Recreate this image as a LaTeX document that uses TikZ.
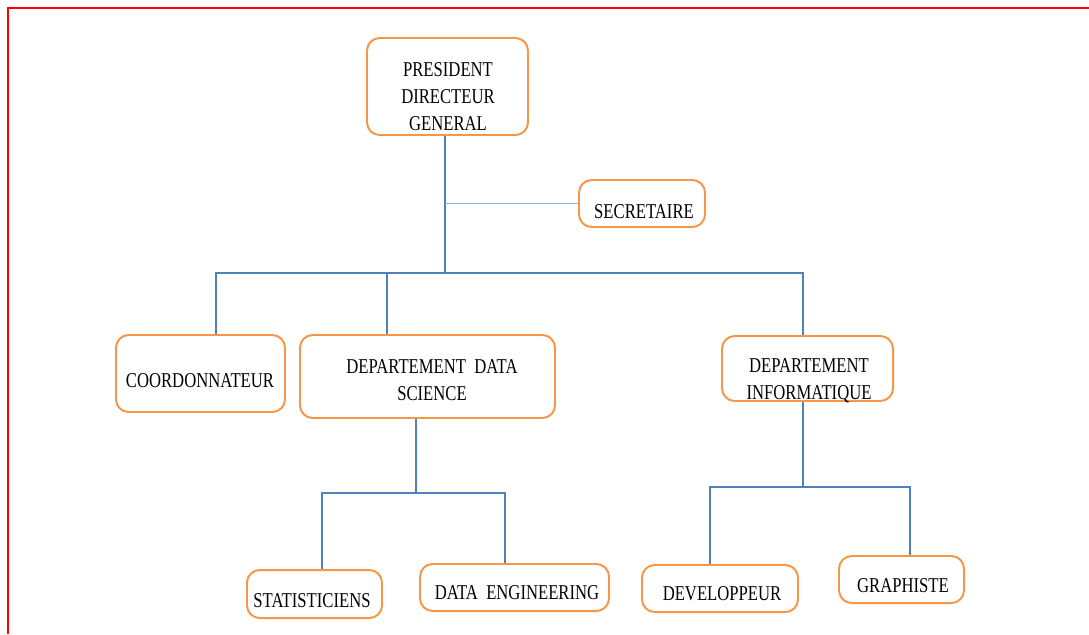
\documentclass[tikz,border=0pt]{standalone}
\usepackage{fontspec}
\setmainfont{Liberation Serif}[FakeStretch=0.79]
\usepackage{xcolor}
\definecolor{boxorange}{HTML}{F79646}
\definecolor{linkblue}{HTML}{4F81BD}
\definecolor{linklight}{HTML}{8EB4E3}

\begin{document}
\begin{tikzpicture}[x=0.025cm,y=-0.025cm,
  box/.style={draw=boxorange,line width=1.4pt,rounded corners=9pt,inner sep=0pt},
  wh/.style 2 args={minimum width={#1*0.025cm},minimum height={#2*0.025cm}},
  txt/.style={align=center,inner sep=0pt,font=\fontsize{15}{19.2}\selectfont},
  link/.style={draw=linkblue,line width=0.8pt}]
				\useasboundingbox (0,0) rectangle (1089,634);
				\draw[red,line width=2pt] (8,634) -- (8,8) -- (1089,8);
				% boxes
				\node[box,wh={161}{97}] (pdg) at (447.5,86.5) {};
				\node[box,wh={126}{47}] (sec) at (642,203.5) {};
				\node[box,wh={169}{77}] (coord) at (200.5,373.5) {};
				\node[box,wh={255}{83}] (dds) at (427.5,376.5) {};
				\node[box,wh={171}{65}] (dinf) at (807.5,368.5) {};
				\node[box,wh={135}{48}] (stat) at (314.5,594) {};
				\node[box,wh={189}{47}] (deng) at (514.5,587.5) {};
				\node[box,wh={156}{47}] (dev) at (720,588.5) {};
				\node[box,wh={125}{47}] (graph) at (901.5,579.5) {};
				% texts
				\node[txt] (pdgt) at (448,97) {PRESIDENT\\DIRECTEUR\\GENERAL};
				\node[txt] (sect) at (644,212) {SECRETAIRE};
				\node[txt] (coordt) at (200,381) {COORDONNATEUR};
				\node[txt] (ddst) at (432,380.5) {DEPARTEMENT\ \ DATA\\SCIENCE};
				\node[txt] (dinft) at (809,380.5) {DEPARTEMENT\\INFORMATIQUE};
				\node[txt] (statt) at (312,601) {STATISTICIENS};
				\node[txt] (dengt) at (517,593) {DATA\ \ ENGINEERING};
				\node[txt] (devt) at (722,594) {DEVELOPPEUR};
				\node[txt] (grapht) at (903,586) {GRAPHISTE};
				% links
				\coordinate (b1) at (445,273);
				\coordinate (k1) at (216,273);
				\coordinate (k2) at (387,273);
				\coordinate (k3) at (803,273);
				\draw[link] (b1 |- pdg.south) -- (b1);
				\draw[draw=linklight,line width=0.7pt] (b1 |- sec.west) -- (sec.west);
				\draw[link] (k1 |- coord.north) -- (k1) -- (k3) -- (k3 |- dinf.north);
				\draw[link] (k2) -- (k2 |- dds.north);
				\coordinate (b2) at (416,493);
				\coordinate (s1) at (322,493);
				\coordinate (s2) at (505,493);
				\draw[link] (b2 |- dds.south) -- (b2);
				\draw[link] (s1 |- stat.north) -- (s1) -- (s2) -- (s2 |- deng.north);
				\coordinate (b3) at (803,487);
				\coordinate (d1) at (710,487);
				\coordinate (d2) at (910,487);
				\draw[link] (b3 |- dinf.south) -- (b3);
				\draw[link] (d1 |- dev.north) -- (d1) -- (d2) -- (d2 |- graph.north);
			\end{tikzpicture}
\end{document}
